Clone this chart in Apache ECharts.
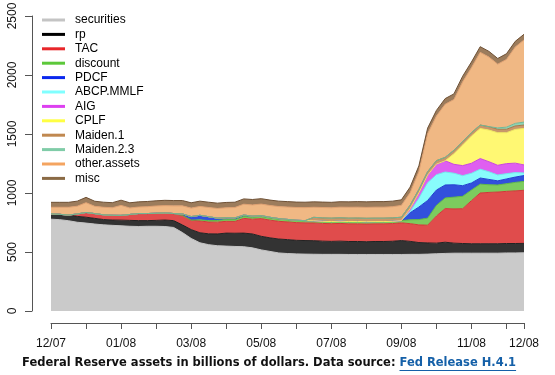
<!DOCTYPE html>
<html>
<head>
<meta charset="utf-8">
<script src="https://cdn.jsdelivr.net/npm/echarts@6/dist/echarts.min.js"></script>
<style>
    html, body { margin: 0; padding: 0; background: #ffffff; }
    #chart { width: 555px; height: 375px; }
</style>
</head>
<body>
<div id="chart"></div>
<script>
    // weekly H.4.1 release dates (Wednesdays)
    const weeks = [
        '2007-12-05', '2007-12-12', '2007-12-19', '2007-12-26', '2008-01-02', '2008-01-09', '2008-01-16', '2008-01-23', '2008-01-30',
        '2008-02-06', '2008-02-13', '2008-02-20', '2008-02-27', '2008-03-05', '2008-03-12', '2008-03-19', '2008-03-26',
        '2008-04-02', '2008-04-09', '2008-04-16', '2008-04-23', '2008-04-30', '2008-05-07', '2008-05-14', '2008-05-21', '2008-05-28',
        '2008-06-04', '2008-06-11', '2008-06-18', '2008-06-25', '2008-07-02', '2008-07-09', '2008-07-16', '2008-07-23', '2008-07-30',
        '2008-08-06', '2008-08-13', '2008-08-20', '2008-08-27', '2008-09-03', '2008-09-10', '2008-09-17', '2008-09-24',
        '2008-10-01', '2008-10-08', '2008-10-15', '2008-10-22', '2008-10-29', '2008-11-05', '2008-11-12', '2008-11-19', '2008-11-26',
        '2008-12-03', '2008-12-10', '2008-12-17',
    ];

    // billions of dollars
    const securities = [778, 774, 765, 752, 745, 737, 730, 726, 722, 718,
        716, 718, 718, 716, 708, 665, 615, 578, 562, 553,
        550, 547, 545, 535, 518, 505, 492, 487, 484, 482,
        481, 480, 480, 480, 479, 479, 479, 479, 479, 479,
        479, 480, 480, 482, 485, 488, 490, 490, 490, 490,
        490, 490, 492, 492, 493];
    const rp = [45, 45, 48, 50, 50, 48, 45, 45, 48, 50,
        50, 48, 50, 55, 58, 65, 75, 85, 92, 100,
        110, 112, 115, 118, 115, 115, 118, 118, 115, 115,
        115, 112, 110, 112, 110, 110, 108, 110, 110, 112,
        118, 110, 100, 95, 90, 95, 85, 82, 80, 80,
        80, 80, 80, 80, 80];
    const TAC = [0, 0, 0, 20, 40, 40, 40, 40, 40, 50,
        60, 60, 60, 60, 60, 80, 80, 100, 100, 100,
        100, 100, 125, 125, 150, 150, 150, 150, 150, 150,
        150, 150, 150, 150, 150, 150, 150, 150, 150, 150,
        150, 150, 150, 150, 230, 285, 290, 295, 365, 430,
        435, 438, 442, 446, 450];
    const discount = [0, 0, 0, 0, 0, 0, 0, 0, 0, 0,
        0, 0, 0, 0, 0, 0, 0, 10, 12, 14,
        15, 15, 16, 16, 17, 18, 18, 17, 17, 17,
        18, 18, 18, 19, 19, 20, 20, 19, 19, 19,
        19, 33, 45, 60, 90, 90, 100, 105, 90, 75,
        65, 60, 65, 72, 75];
    const PDCF = [0, 0, 0, 0, 0, 0, 0, 0, 0, 0,
        0, 0, 0, 0, 0, 13, 30, 38, 33, 20,
        15, 15, 12, 10, 8, 6, 5, 4, 3, 2,
        1, 0, 0, 0, 0, 0, 0, 0, 0, 0,
        0, 60, 106, 150, 130, 110, 105, 90, 60, 52,
        45, 35, 40, 45, 50];
    const ABCP_MMLF = [0, 0, 0, 0, 0, 0, 0, 0, 0, 0,
        0, 0, 0, 0, 0, 0, 0, 0, 0, 0,
        0, 0, 0, 0, 0, 0, 0, 0, 0, 0,
        0, 0, 0, 0, 0, 0, 0, 0, 0, 0,
        0, 10, 75, 150, 130, 110, 98, 85, 82, 75,
        65, 50, 45, 38, 22];
    const AIG = [0, 0, 0, 0, 0, 0, 0, 0, 0, 0,
        0, 0, 0, 0, 0, 0, 0, 0, 0, 0,
        0, 0, 0, 0, 0, 0, 0, 0, 0, 0,
        0, 0, 0, 0, 0, 0, 0, 0, 0, 0,
        0, 25, 45, 65, 90, 95, 75, 85, 85, 90,
        85, 82, 85, 80, 68];
    const CPLF = [0, 0, 0, 0, 0, 0, 0, 0, 0, 0,
        0, 0, 0, 0, 0, 0, 0, 0, 0, 0,
        0, 0, 0, 0, 0, 0, 0, 0, 0, 0,
        0, 0, 0, 0, 0, 0, 0, 0, 0, 0,
        0, 0, 0, 0, 0, 0, 90, 175, 230, 255,
        268, 276, 262, 286, 309];
    const maiden1 = [0, 0, 0, 0, 0, 0, 0, 0, 0, 0,
        0, 0, 0, 0, 0, 0, 0, 0, 0, 0,
        0, 0, 0, 0, 0, 0, 0, 0, 0, 0,
        29, 29, 29, 29, 29, 29, 29, 29, 29, 29,
        29, 29, 29, 29, 29, 29, 29, 29, 29, 29,
        29, 29, 29, 29, 29];
    const maiden23 = [0, 0, 0, 0, 0, 0, 0, 0, 0, 0,
        0, 0, 0, 0, 0, 0, 0, 0, 0, 0,
        0, 0, 0, 0, 0, 0, 0, 0, 0, 0,
        0, 0, 0, 0, 0, 0, 0, 0, 0, 0,
        0, 0, 0, 0, 0, 0, 0, 0, 0, 0,
        0, 12, 18, 22, 25];
    const otherAssets = [56, 60, 66, 66, 83, 62, 64, 64, 85, 55,
        55, 58, 62, 62, 65, 68, 72, 75, 78, 82,
        85, 88, 92, 95, 98, 100, 102, 105, 108, 110,
        85, 88, 88, 90, 92, 92, 92, 93, 93, 95,
        100, 105, 152, 321, 378, 450, 430, 506, 551, 616,
        590, 540, 574, 647, 696];
    const misc = [42, 42, 42, 43, 45, 43, 43, 43, 44, 44,
        44, 44, 44, 45, 45, 45, 45, 45, 45, 45,
        45, 45, 45, 46, 46, 46, 46, 46, 46, 46,
        46, 46, 46, 46, 46, 47, 47, 47, 47, 47,
        47, 48, 48, 48, 48, 48, 48, 48, 48, 48,
        48, 48, 48, 48, 48];

    const seriesNames = ['securities', 'rp', 'TAC', 'discount', 'PDCF', 'ABCP.MMLF', 'AIG', 'CPLF', 'Maiden.1', 'Maiden.2.3', 'other.assets', 'misc'];
    const seriesData = [securities, rp, TAC, discount, PDCF, ABCP_MMLF, AIG, CPLF, maiden1, maiden23, otherAssets, misc];

    // legend line colour, area fill, area edge
    const legendColors = ['#c4c4c4', '#000000', '#e8262a', '#5cc83a', '#0a28ee', '#80ffff', '#dd40f0', '#ffff44', '#c08850', '#80cca8', '#f4a460', '#8a6a45'];
    const fillColors = ['#cacaca', '#333333', '#e04c4c', '#7ccc5e', '#3250dc', '#88fcfc', '#df5ff0', '#fff873', '#c8976a', '#8dd4b4', '#f0b884', '#9c7c5c'];
    const edgeColors = ['#c4c4c4', '#222222', '#d03838', '#5eb844', '#2040d0', '#70e8ec', '#c848dc', '#f0e860', '#a87848', '#70b898', '#e0a070', '#6e5034'];

    const fontFamily = '"Liberation Sans", Arial, sans-serif';
    const axisColor = '#555555';
    const linkColor = '#1560a8';

    const captionA = 'Federal Reserve assets in billions of dollars. Data source: ';
    const captionB = 'Fed Release H.4.1';
    const captionSize = 11.5;
    const measure = document.createElement('canvas').getContext('2d');
    measure.font = 'bold ' + captionSize + 'px "DejaVu Sans"';
    const widthA = measure.measureText(captionA).width;
    const widthB = measure.measureText(captionB).width;

    const lastIdx = weeks.length - 1;

    const chart = echarts.init(document.getElementById('chart'));
    chart.setOption({
        animation: false,
        backgroundColor: '#ffffff',
        title: {
            left: 22,
            top: 357,
            padding: 0,
            text: '{a|' + captionA + '}{b|' + captionB + '}',
            textStyle: {
                rich: {
                    a: { fontFamily: '"DejaVu Sans"', fontWeight: 'bold', fontSize: captionSize, color: '#111111' },
                    b: { fontFamily: '"DejaVu Sans"', fontWeight: 'bold', fontSize: captionSize, color: linkColor },
                },
            },
        },
        // underline of the link part of the caption
        graphic: [{
            type: 'line',
            shape: { x1: 22 + widthA, y1: 370.5, x2: 22 + widthA + widthB, y2: 370.5 },
            style: { stroke: linkColor, lineWidth: 1 },
        }],
        legend: {
            orient: 'vertical',
            left: 42,
            top: 13,
            padding: 0,
            icon: 'rect',
            itemWidth: 23,
            itemHeight: 3,
            itemGap: 0.4,
            textStyle: { fontFamily: fontFamily, fontSize: 12, color: '#000000', lineHeight: 14, padding: [0, 0, 0, 5] },
            data: seriesNames,
        },
        grid: {
            left: 51,
            right: 31,
            top: 16,
            bottom: 64,
            containLabel: false,
            outerBoundsMode: 'none',
        },
        xAxis: {
            type: 'category',
            position: 'bottom',
            z: 10,
            data: weeks,
            boundaryGap: false,
            offset: 12,
            axisLine: { onZero: false, lineStyle: { color: axisColor, width: 1 } },
            axisTick: {
                length: 6,
                interval: (i) => i % 4 === 0 || i === lastIdx,
                lineStyle: { color: axisColor },
            },
            axisLabel: {
                interval: (i) => i % 8 === 0 || i === lastIdx,
                formatter: (v) => v.slice(5, 7) + '/' + v.slice(2, 4),
                margin: 15,
                fontFamily: fontFamily,
                fontSize: 12,
                color: '#111111',
            },
            splitLine: { show: false },
        },
        yAxis: {
            type: 'value',
            min: 0,
            max: 2500,
            interval: 500,
            offset: 19,
            axisLine: { show: true, lineStyle: { color: axisColor, width: 1 } },
            axisTick: { show: true, length: 7, lineStyle: { color: axisColor } },
            axisLabel: {
                rotate: 90,
                margin: 13,
                formatter: (v) => String(v),
                fontFamily: fontFamily,
                fontSize: 12,
                color: '#111111',
            },
            splitLine: { show: false },
        },
        series: seriesNames.map((name, k) => ({
            name: name,
            type: 'line',
            stack: 'assets',
            data: seriesData[k],
            symbol: 'none',
            showSymbol: false,
            smooth: false,
            itemStyle: { color: legendColors[k] },
            lineStyle: { color: edgeColors[k], width: 1 },
            areaStyle: { color: fillColors[k], opacity: 1 },
            emphasis: { disabled: true },
        })),
    });
</script>
</body>
</html>
